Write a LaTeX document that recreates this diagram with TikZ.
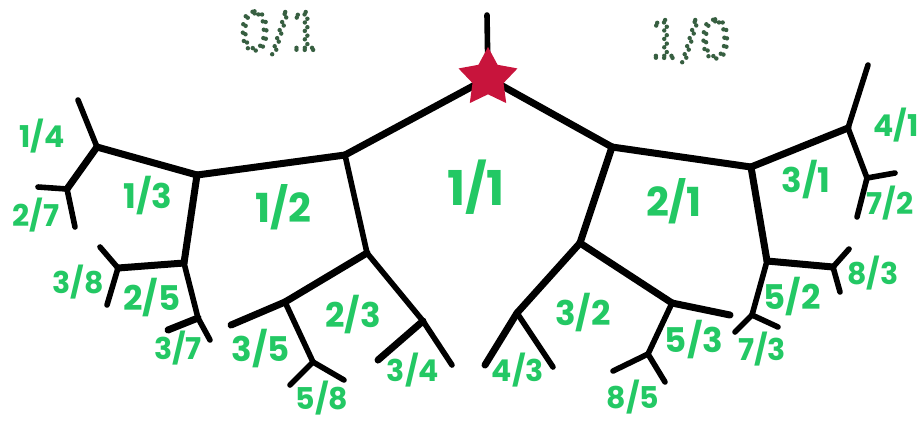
\documentclass[tikz,border=0pt]{standalone}
\usepackage{fontspec}
\setmainfont{Poppins}
\newfontfamily\thinfont{DejaVu Sans ExtraLight}
\usetikzlibrary{shapes.geometric}
\definecolor{labgreen}{RGB}{35, 200, 100}
\definecolor{dotgreen}{RGB}{55, 95, 65}
\definecolor{starred}{RGB}{200, 20, 60}
% stroked, dotted text for the two end fractions
\newcommand{\dottxt}[1]{\special{pdf:literal direct 1 Tr [0 4.2] 0 d 1 J 2.2 w}#1\special{pdf:literal direct 0 Tr [] 0 d 0 J}}
\tikzset{
  % tree branches
  branch/.style = {line width=3.5pt, draw=black, line cap=round, line join=round},
  twig/.style   = {line width=2.8pt, draw=black, line cap=round, line join=round},
  % fraction labels
  frac/.style    = {text=labgreen, inner sep=0pt, font=\bfseries\fontsize{15}{15}\selectfont},
  fracmid/.style = {frac, font=\bfseries\fontsize{17}{17}\selectfont},
  fraclg/.style  = {frac, font=\bfseries\fontsize{20}{20}\selectfont},
  fracbig/.style = {frac, font=\bfseries\fontsize{24}{24}\selectfont},
  endfrac/.style = {text=dotgreen, inner sep=0pt, font=\thinfont\fontsize{26}{26}\selectfont},
  % root mark
  rootstar/.style = {star, star points=5, star point ratio=1.9, fill=starred,
                     minimum size=31pt, inner sep=0pt},
}
\begin{document}
\begin{tikzpicture}[x=0.5pt, y=-0.5pt]
  \useasboundingbox (0,0) rectangle (924,420);
  % junctions
  \coordinate (top) at (487,15);
  \coordinate (rt) at (488,78);
  \coordinate (l1) at (345,155);
  \coordinate (r1) at (612,147);
  % left half
  \coordinate (l2) at (197,175);
  \coordinate (l3) at (97,147);   \coordinate (l3t) at (78,100);
  \coordinate (l4) at (67,189);   \coordinate (l4a) at (38,187);  \coordinate (l4b) at (75,227);
  \coordinate (l5) at (184,263);
  \coordinate (l6) at (118,268);  \coordinate (l6a) at (100,247); \coordinate (l6b) at (107,305);
  \coordinate (l7) at (198,318);  \coordinate (l7a) at (168,330); \coordinate (l7b) at (210,340);
  \coordinate (l2b) at (367,253);
  \coordinate (m1) at (285,302);  \coordinate (m1a) at (231,325);
  \coordinate (m2) at (313,362);  \coordinate (m2a) at (290,385); \coordinate (m2b) at (344,380);
  \coordinate (m3) at (423,321);  \coordinate (m3a) at (378,360); \coordinate (m3b) at (452,365);
  % right half
  \coordinate (r2) at (751,167);
  \coordinate (r3) at (848,128);  \coordinate (r3t) at (868,65);
  \coordinate (r4) at (867,178);  \coordinate (r4a) at (895,173); \coordinate (r4b) at (857,217);
  \coordinate (r5) at (767,261);
  \coordinate (r6) at (833,267);  \coordinate (r6a) at (849,249); \coordinate (r6b) at (840,292);
  \coordinate (r7) at (752,315);  \coordinate (r7a) at (735,332); \coordinate (r7b) at (778,327);
  \coordinate (r2b) at (580,243);
  \coordinate (s1) at (517,313);  \coordinate (s1a) at (485,365); \coordinate (s1b) at (553,367);
  \coordinate (s2) at (672,303);  \coordinate (s2a) at (730,315);
  \coordinate (s3) at (648,354);  \coordinate (s3a) at (613,371); \coordinate (s3b) at (665,382);

  % branches
  \draw[twig] (top) -- (rt);
  \foreach \a/\b in {rt/l1, l1/l2, l2/l3, l3/l4, l2/l5, l5/l6, l7/l7a, l2b/m1, m1/m1a, m3/m3a,
                     rt/r1, r1/r2, r1/r2b, r2/r3, r2/r5, r5/r6, r2b/s1, s1/s1a, r2b/s2, s2/s2a}
    \draw[branch] (\a) -- (\b);
  \foreach \a/\b in {l3/l3t, l4/l4a, l4/l4b, l6/l6a, l6/l6b, l5/l7, l7/l7b, l1/l2b, m1/m2,
                     m2/m2a, m2/m2b, l2b/m3, m3/m3b, r3/r3t, r3/r4, r4/r4a, r4/r4b, r6/r6a,
                     r6/r6b, r5/r7, r7/r7a, r7/r7b, s1/s1b, s2/s3, s3/s3a, s3/s3b}
    \draw[twig] (\a) -- (\b);
  \node[rootstar] (root) at (rt) {};

  % fractions between the branches
  \node[fracbig] (f11) at (476,187) {1/1};
  \node[fraclg] (f12) at (283,207) {1/2};
  \node[fraclg] (f21) at (674,201) {2/1};
  \node[fracmid] (f13) at (148,196) {1/3};
  \node[fracmid] (f31) at (806,180) {3/1};
  \node[fracmid] (f23) at (353,315) {2/3};
  \node[fracmid] (f32) at (583,313) {3/2};
  \node[fracmid] (f25) at (152,298) {2/5};
  \node[fracmid] (f52) at (792,297) {5/2};
  \node[fracmid] (f35) at (261,349) {3/5};
  \node[fracmid] (f53) at (694,340) {5/3};
  \node[frac] (f14) at (42,136) {1/4};
  \node[frac] (f41) at (896,125) {4/1};
  \node[frac] (f27) at (36,215) {2/7};
  \node[frac] (f72) at (890,203) {7/2};
  \node[frac] (f38) at (78,282) {3/8};
  \node[frac] (f83) at (873,273) {8/3};
  \node[frac] (f37) at (178,348) {3/7};
  \node[frac] (f73) at (762,349) {7/3};
  \node[frac] (f58) at (322,398) {5/8};
  \node[frac] (f85) at (633,397) {8/5};
  \node[frac] (f34) at (413,370) {3/4};
  \node[frac] (f43) at (518,370) {4/3};
  % the two ends
  \node[endfrac] (f01) at (280,33) {\dottxt{0/1}};
  \node[endfrac] (f10) at (690,41) {\dottxt{1/0}};
\end{tikzpicture}
\end{document}
